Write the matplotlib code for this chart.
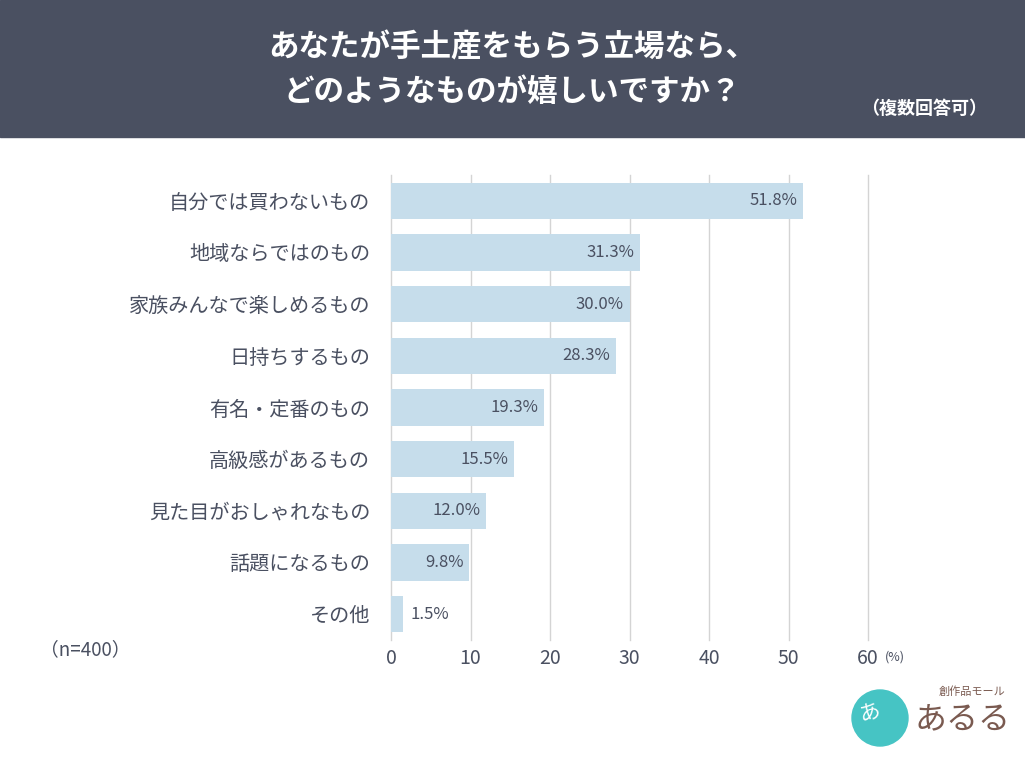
import matplotlib
matplotlib.use("Agg")
import matplotlib.pyplot as plt
from matplotlib.patches import Rectangle, Ellipse

plt.rcParams['font.family'] = ['Noto Sans CJK JP', 'DejaVu Sans']

# ---------- data ----------
categories = ["自分では買わないもの", "地域ならではのもの", "家族みんなで楽しめるもの",
              "日持ちするもの", "有名・定番のもの", "高級感があるもの",
              "見た目がおしゃれなもの", "話題になるもの", "その他"]
values = [51.8, 31.3, 30.0, 28.3, 19.3, 15.5, 12.0, 9.8, 1.5]
xticks = [0, 10, 20, 30, 40, 50, 60]

title = "あなたが手土産をもらう立場なら、\nどのようなものが嬉しいですか？"
note = "（複数回答可）"
sample = "（n=400）"

DARK = "#4a5061"
BAR = "#c6ddeb"
GRID = "#d4d4d4"

W, H = 1025, 768
fig = plt.figure(figsize=(W / 100, H / 100), dpi=100)

# ---------- header band ----------
fig.patches.append(Rectangle((0, 1 - 137 / H), 1, 137 / H, transform=fig.transFigure,
                             color=DARK, zorder=0))
fig.text(512 / W, 1 - 70 / H, title, color="white", fontsize=22, fontweight="bold",
         ha="center", va="center", linespacing=1.5)
fig.text(924 / W, 1 - 108 / H, note, color="white", fontsize=13, fontweight="bold",
         ha="center", va="center")

# ---------- bars ----------
ax = fig.add_axes([391 / W, 1 - 640 / H, 477 / W, 465 / H])
ypos = list(range(len(categories)))
ax.barh(ypos, values, height=0.7, color=BAR, zorder=2)
ax.set_xlim(0, 60)
ax.set_ylim(len(categories) - 0.5, -0.5)

for y, v in zip(ypos, values):
    if v >= 5:
        ax.text(v - 0.7, y, f"{v:.1f}%", ha="right", va="center", fontsize=12,
                color=DARK, zorder=3)
    else:
        ax.text(v + 0.9, y, f"{v:.1f}%", ha="left", va="center", fontsize=12,
                color=DARK, zorder=3)

ax.set_xticks(xticks)
ax.set_xticklabels([str(t) for t in xticks], fontsize=14, color=DARK)
ax.set_yticks(ypos)
ax.set_yticklabels(categories, fontsize=14.5, color=DARK)
ax.tick_params(axis="y", length=0, pad=15)
ax.tick_params(axis="x", length=0, pad=6)
ax.grid(axis="x", color=GRID, linewidth=1, zorder=1)
for gl in ax.get_xgridlines():
    gl.set_clip_on(False)
for s in ax.spines.values():
    s.set_visible(False)

fig.text(895 / W, 1 - 657 / H, "(%)", color=DARK, fontsize=9, ha="center", va="center")
fig.text(85 / W, 1 - 650 / H, sample, color=DARK, fontsize=13.5, ha="center", va="center")

# ---------- logo ----------
fig.patches.append(Ellipse((880 / W, 1 - 718 / H), 56 / W, 56 / H, transform=fig.transFigure,
                           color="#46c4c4", zorder=1))
fig.text(870 / W, 1 - 712 / H, "あ", color="white", fontsize=15, ha="center",
         va="center", rotation=15, zorder=2)
fig.text(972 / W, 1 - 692 / H, "創作品モール", color="#7a5a50", fontsize=8,
         ha="center", va="center")
fig.text(963 / W, 1 - 720 / H, "あるる", color="#7a5a50", fontsize=23,
         ha="center", va="center")

fig.savefig("out.png", dpi=100)
